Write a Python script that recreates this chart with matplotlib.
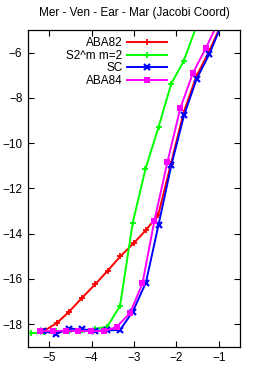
import numpy as np
import matplotlib
matplotlib.use("Agg")
import matplotlib.pyplot as plt

# log10(step) vs log10(error)
aba82_x = [-5.12, -4.81, -4.53, -4.22, -3.91, -3.62, -3.32, -3.01, -2.72, -2.43, -2.13, -1.83, -1.53, -1.23, -0.93]
aba82_y = [-18.30, -17.94, -17.45, -16.83, -16.23, -15.64, -15.00, -14.43, -13.85, -13.18, -10.92, -8.65, -7.05, -5.95, -4.70]

s2m_x = [-5.43, -5.13, -4.83, -4.53, -4.23, -3.93, -3.63, -3.33, -3.03, -2.73, -2.42, -2.12, -1.83, -1.52]
s2m_y = [-18.41, -18.36, -18.32, -18.30, -18.28, -18.22, -18.11, -17.20, -13.52, -11.15, -9.28, -7.37, -6.38, -4.80]

sc_x = [-5.14, -4.84, -4.53, -4.23, -3.93, -3.63, -3.33, -3.03, -2.72, -2.42, -2.12, -1.82, -1.52, -1.22, -0.92]
sc_y = [-18.31, -18.44, -18.20, -18.23, -18.29, -18.28, -18.26, -17.45, -16.17, -13.60, -10.98, -8.77, -7.15, -6.05, -4.70]

aba84_x = [-5.22, -4.91, -4.61, -4.31, -4.01, -3.71, -3.41, -3.09, -2.80, -2.52, -2.21, -1.91, -1.61, -1.30, -1.00]
aba84_y = [-18.31, -18.31, -18.29, -18.31, -18.31, -18.31, -18.13, -17.50, -16.20, -13.43, -10.83, -8.47, -6.90, -5.78, -4.60]

xticks = [-5, -4, -3, -2, -1]
yticks = [-6, -8, -10, -12, -14, -16, -18]

plt.rcParams['font.family'] = ['Liberation Sans', 'DejaVu Sans']
fig = plt.figure(figsize=(2.66, 3.69), dpi=100)
ax = fig.add_axes([28 / 266, 1 - 346.7 / 369, 212 / 266, 316.7 / 369])

ax.plot(aba82_x, aba82_y, color='#ff0000', marker='+', ms=4, mew=1.3, lw=1.4, label='ABA82')
ax.plot(s2m_x, s2m_y, color='#00ff00', marker='+', ms=4, mew=1.3, lw=1.4, label='S2^m m=2')
ax.plot(sc_x, sc_y, color='#0000ff', marker='x', ms=4, mew=1.6, lw=1.4, label='SC')
ax.plot(aba84_x, aba84_y, color='#ff00ff', marker='s', ms=4, mew=0, lw=1.4, label='ABA84')

ax.set_xlim(-5.5, -0.5)
ax.set_ylim(-19, -5)
ax.set_xticks(xticks)
ax.set_yticks(yticks)
ax.tick_params(direction='in', top=True, right=True, length=4, width=0.8, labelsize=8.5)
ax.tick_params(axis='y', pad=4)
ax.tick_params(axis='x', pad=4)
for s in ax.spines.values():
    s.set_linewidth(0.9)

ax.set_title('Mer - Ven - Ear - Mar (Jacobi Coord)', fontsize=8.5, pad=10)

ax.legend(loc='upper right', bbox_to_anchor=(0.69, 1.0), frameon=False, markerfirst=False,
          fontsize=8.5, handlelength=3.4, handletextpad=0.4, labelspacing=0.05, borderaxespad=0.2)

fig.savefig('out.png', dpi=100)
